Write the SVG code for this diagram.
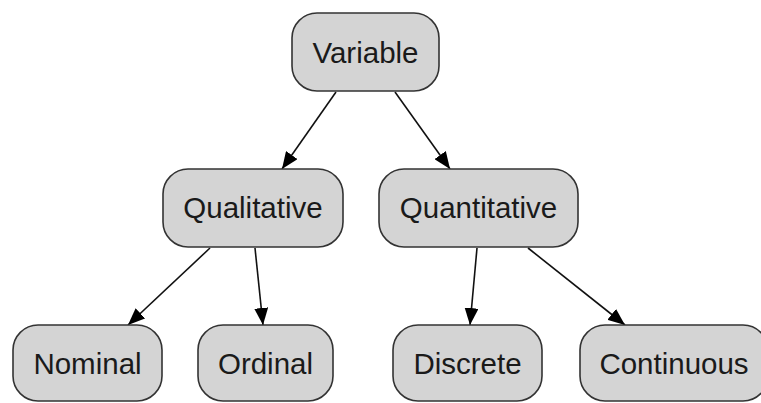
<svg xmlns="http://www.w3.org/2000/svg" width="761" height="403" viewBox="0 0 761 403">
<style>
.box{fill:#d4d4d4;stroke:#333;stroke-width:1.6}
.lbl{font-family:"Liberation Sans",Arial,sans-serif;font-size:29.5px;fill:#1a1a1a;text-anchor:middle}
.edge{stroke:#111;stroke-width:1.6;fill:none;marker-end:url(#ah)}
</style>
<defs>
<marker id="ah" markerWidth="18" markerHeight="14" refX="17" refY="7" orient="auto" markerUnits="userSpaceOnUse">
<path d="M0,0 L17,7 L0,14 Z" fill="#000"/>
</marker>
</defs>
<rect width="761" height="403" fill="#fff"/>
<g id="connectors">
<line class="edge" x1="336" y1="92" x2="282" y2="169"/>
<line class="edge" x1="395" y1="92" x2="450" y2="169"/>
<line class="edge" x1="210" y1="248" x2="128" y2="325"/>
<line class="edge" x1="255" y1="248" x2="263" y2="325"/>
<line class="edge" x1="477" y1="248" x2="470" y2="325"/>
<line class="edge" x1="528" y1="248" x2="625" y2="325"/>
</g>
<g id="variable"><rect class="box" x="292" y="13" width="147" height="78" rx="25"/><text class="lbl" x="365.5" y="63">Variable</text></g>
<g id="qualitative"><rect class="box" x="163" y="169" width="180" height="78" rx="25"/><text class="lbl" x="253" y="218">Qualitative</text></g>
<g id="quantitative"><rect class="box" x="379" y="169" width="199" height="78" rx="25"/><text class="lbl" x="478.5" y="218">Quantitative</text></g>
<g id="nominal"><rect class="box" x="13" y="325" width="149" height="76" rx="25"/><text class="lbl" x="87.5" y="374">Nominal</text></g>
<g id="ordinal"><rect class="box" x="198" y="325" width="135" height="76" rx="25"/><text class="lbl" x="265.5" y="374">Ordinal</text></g>
<g id="discrete"><rect class="box" x="393" y="325" width="149" height="76" rx="25"/><text class="lbl" x="467.5" y="374">Discrete</text></g>
<g id="continuous"><rect class="box" x="580" y="325" width="188" height="76" rx="25"/><text class="lbl" x="674" y="374">Continuous</text></g>
</svg>
